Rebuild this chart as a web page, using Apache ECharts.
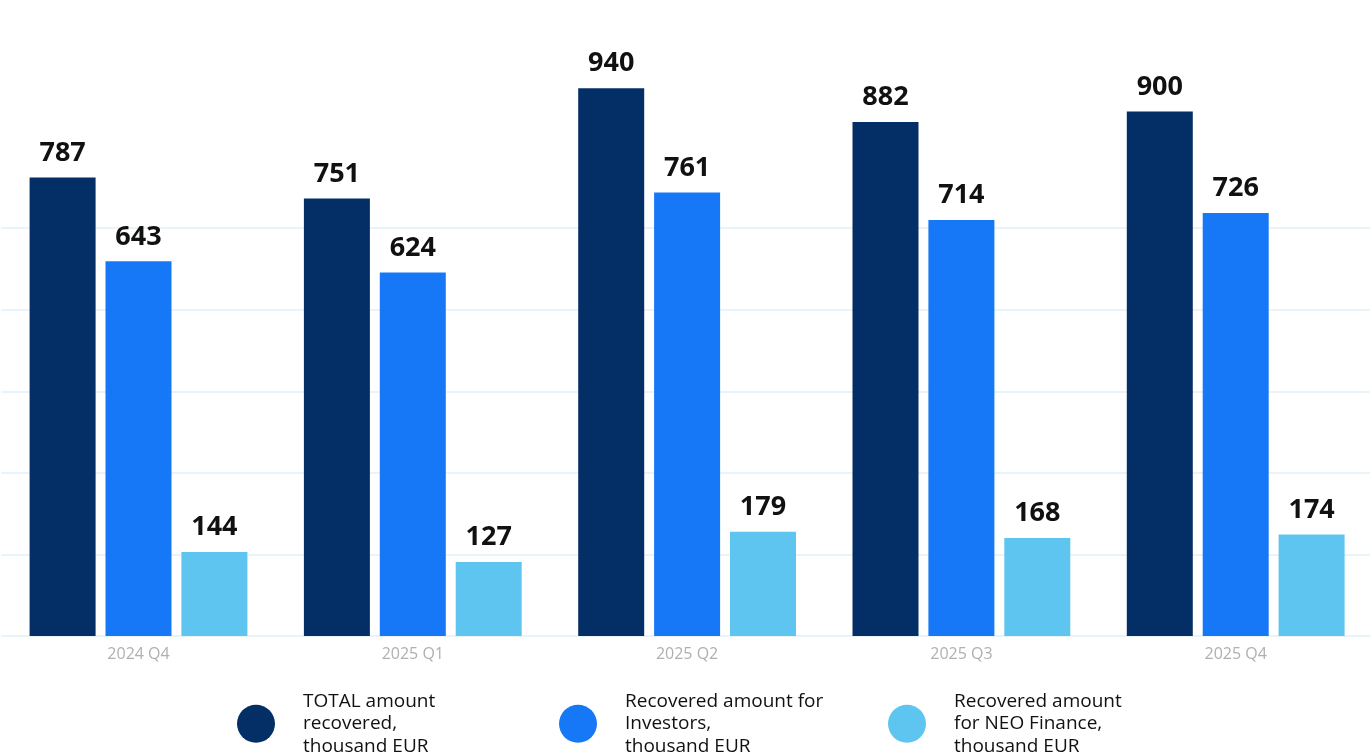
<!DOCTYPE html>
<html>
<head>
<meta charset="utf-8">
<script src="https://cdn.jsdelivr.net/npm/echarts@6/dist/echarts.min.js"></script>
<style>
  html, body { margin: 0; padding: 0; background: #ffffff; }
  #chart { width: 1370px; height: 756px; }
</style>
</head>
<body>
<div id="chart"></div>
<script>
// Quarterly recovery amounts, thousand EUR
const categories = ['2024 Q4', '2025 Q1', '2025 Q2', '2025 Q3', '2025 Q4'];
const totalRecovered = [787, 751, 940, 882, 900];
const investorsRecovered = [643, 624, 761, 714, 726];
const neoFinanceRecovered = [144, 127, 179, 168, 174];
const seriesNames = [
  'TOTAL amount\nrecovered,\nthousand EUR',
  'Recovered amount for\nInvestors,\nthousand EUR',
  'Recovered amount\nfor NEO Finance,\nthousand EUR'
];

const colors = ['#032f66', '#1778f7', '#5ec5f0'];
const gridColor = '#e9f3fa';
const FONT = '"Open Sans", "Noto Sans", sans-serif';

const chart = echarts.init(document.getElementById('chart'), null, { renderer: 'canvas' });

function barSeries(name, data, color) {
  return {
    name: name,
    type: 'bar',
    data: data,
    barWidth: 66,
    barGap: '15%',
    itemStyle: { color: color },
    label: {
      show: true,
      position: 'top',
      distance: 11,
      color: '#111111',
      fontFamily: FONT,
      fontSize: 27,
      fontWeight: 'bold'
    }
  };
}

function legendAt(idx, left) {
  return {
    data: [seriesNames[idx]],
    left: left,
    top: 690,
    padding: 0,
    icon: 'circle',
    itemWidth: 38,
    itemHeight: 38,
    selectedMode: false,
    textStyle: {
      color: '#111111',
      fontFamily: FONT,
      fontSize: 19,
      lineHeight: 22.5,
      padding: [0, 0, 0, 23]
    }
  };
}

chart.setOption({
  animation: false,
  color: colors,
  grid: {
    left: 1.35,
    width: 1371.5,
    top: 65,
    bottom: 120,
    containLabel: false,
    outerBoundsMode: 'none'
  },
  legend: [legendAt(0, 237), legendAt(1, 559), legendAt(2, 888)],
  xAxis: {
    type: 'category',
    data: categories,
    axisLine: { show: false },
    axisTick: { show: false },
    axisLabel: {
      color: '#b0b0b0',
      fontFamily: FONT,
      fontSize: 16,
      margin: 10
    }
  },
  yAxis: {
    type: 'value',
    min: 0,
    max: 980,
    interval: 140,
    axisLine: { show: false },
    axisTick: { show: false },
    axisLabel: { show: false },
    splitLine: {
      show: true,
      lineStyle: {
        width: 2,
        color: [gridColor, gridColor, gridColor, gridColor, gridColor, gridColor, 'rgba(0,0,0,0)', 'rgba(0,0,0,0)']
      }
    }
  },
  series: [
    barSeries(seriesNames[0], totalRecovered, colors[0]),
    barSeries(seriesNames[1], investorsRecovered, colors[1]),
    barSeries(seriesNames[2], neoFinanceRecovered, colors[2])
  ]
});
</script>
</body>
</html>
